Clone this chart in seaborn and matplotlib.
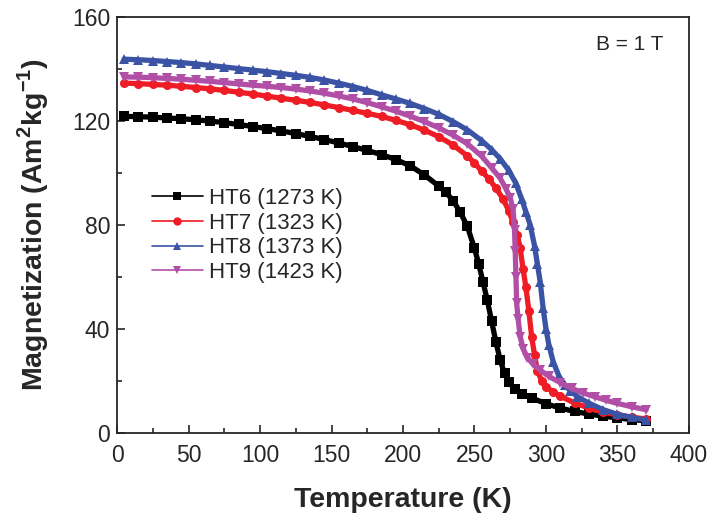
import pandas as pd
import matplotlib
matplotlib.use('Agg')
import matplotlib.pyplot as plt
import seaborn as sns
from matplotlib.ticker import MultipleLocator

# Series: temperature (K) and magnetization (Am2/kg)
t_ht6 = [5, 15, 25, 35, 45, 55, 65, 75, 85, 95, 105, 115, 125, 135, 145, 155, 165, 175, 185, 195,
         205, 215, 225, 230, 235, 240, 245, 250, 253, 256, 259, 262, 265, 268, 271, 274, 278, 283,
         290, 300, 310, 320, 330, 340, 350, 360, 370]
m_ht6 = [121.8, 121.7, 121.5, 121.2, 120.9, 120.5, 120.0, 119.4, 118.7, 117.9, 117.1, 116.2, 115.2,
         114.1, 112.9, 111.6, 110.2, 108.7, 107.1, 105.2, 102.8, 99.3, 95.0, 92.6, 89.4, 85.0, 79.5,
         71.0, 65.0, 58.0, 51.0, 43.0, 35.0, 28.0, 23.0, 19.5, 17.0, 15.2, 13.5, 11.3, 9.6, 8.3, 7.3,
         6.5, 5.8, 5.2, 4.7]

t_ht7 = [5, 15, 25, 35, 45, 55, 65, 75, 85, 95, 105, 115, 125, 135, 145, 155, 165, 175, 185, 195,
         205, 215, 225, 235, 245, 250, 255, 260, 265, 270, 274, 277, 280, 282, 284, 286, 288, 290,
         292, 294, 297, 300, 305, 310, 320, 330, 340, 350, 360, 370]
m_ht7 = [134.6, 134.4, 134.1, 133.8, 133.4, 132.9, 132.4, 131.8, 131.1, 130.4, 129.6, 128.8, 128.0,
         127.2, 126.2, 125.2, 124.1, 123.0, 121.8, 120.3, 118.6, 116.5, 114.0, 110.8, 106.6, 103.9,
         100.8, 97.8, 94.2, 90.0, 85.5, 81.0, 76.0, 71.0, 63.0, 56.0, 47.0, 37.0, 30.0, 24.0, 20.0,
         17.8, 15.8, 14.2, 11.6, 9.6, 8.1, 7.0, 6.1, 5.4]

t_ht8 = [5, 15, 25, 35, 45, 55, 65, 75, 85, 95, 105, 115, 125, 135, 145, 155, 165, 175, 185, 195,
         205, 215, 225, 235, 245, 255, 262, 268, 274, 279, 283, 286, 289, 292, 294, 296, 298, 300,
         302, 305, 309, 313, 317, 322, 330, 340, 350, 360, 370]
m_ht8 = [143.8, 143.6, 143.3, 142.9, 142.5, 142.0, 141.4, 140.8, 140.2, 139.6, 139.0, 138.3, 137.6,
         136.8, 135.8, 134.6, 133.3, 131.8, 130.1, 128.5, 126.8, 124.8, 122.6, 119.8, 116.6, 112.5,
         109.0, 105.5, 101.0, 96.0, 90.0, 85.0, 80.0, 72.0, 65.0, 58.0, 48.0, 40.0, 34.0, 27.5, 22.0,
         18.5, 16.3, 14.0, 11.5, 9.0, 7.2, 6.0, 5.0]

t_ht9 = [5, 15, 25, 35, 45, 55, 65, 75, 85, 95, 105, 115, 125, 135, 145, 155, 165, 175, 185, 195,
         205, 215, 225, 235, 245, 255, 262, 268, 272, 275, 277, 278, 278.5, 279, 279.5, 280.5, 282,
         284, 287, 291, 296, 302, 310, 318, 326, 334, 342, 350, 360, 370]
m_ht9 = [137.0, 136.9, 136.7, 136.4, 136.1, 135.7, 135.3, 134.8, 134.3, 133.8, 133.4, 132.9, 132.3,
         131.6, 130.7, 129.7, 128.5, 127.1, 125.5, 123.8, 121.9, 119.8, 117.4, 114.6, 111.3, 106.5,
         102.0, 98.0, 94.0, 90.5, 86.0, 78.0, 70.0, 60.0, 50.0, 44.0, 37.0, 32.5, 29.0, 26.5, 24.2,
         21.8, 19.4, 17.2, 15.4, 14.0, 12.6, 11.4, 10.1, 9.0]

labels = ['HT6 (1273 K)', 'HT7 (1323 K)', 'HT8 (1373 K)', 'HT9 (1423 K)']
colors = ['#000000', '#ee1c25', '#3a53a4', '#b14fa6']
markers = ['s', 'o', '^', 'v']

series = [(t_ht6, m_ht6), (t_ht7, m_ht7), (t_ht8, m_ht8), (t_ht9, m_ht9)]

sns.set_style('ticks')
plt.rcParams['font.family'] = ['Liberation Sans', 'DejaVu Sans']
plt.rcParams['mathtext.fontset'] = 'custom'
plt.rcParams['mathtext.rm'] = 'Liberation Sans'
plt.rcParams['mathtext.bf'] = 'Liberation Sans:bold'

fig = plt.figure(figsize=(7.11, 5.18), dpi=100)
ax = fig.add_axes([0.1646, 0.164, 0.8044, 0.803])

# the measured points sit so close together that they read as a thick band
for (t, m), lab, c, mk in zip(series, labels, colors, markers):
    df = pd.DataFrame({'T': t, 'M': m})
    sns.lineplot(data=df, x='T', y='M', ax=ax, color=c, marker=mk, markersize=6.5,
                 markeredgewidth=0, linewidth=3.8, label=lab, sort=False, estimator=None,
                 solid_joinstyle='round', solid_capstyle='round')

ax.set_xlim(0, 400)
ax.set_ylim(0, 160)
ax.xaxis.set_major_locator(MultipleLocator(50))
ax.xaxis.set_minor_locator(MultipleLocator(25))
ax.yaxis.set_major_locator(MultipleLocator(40))
ax.yaxis.set_minor_locator(MultipleLocator(20))
ax.tick_params(which='both', direction='in', top=False, right=False, width=1.2)
ax.tick_params(which='major', length=6, labelsize=16.5)
ax.tick_params(axis='x', which='major', pad=8)
ax.tick_params(axis='y', which='major', pad=5)
ax.tick_params(which='minor', length=3.5)
for s in ax.spines.values():
    s.set_linewidth(1.3)
    s.set_visible(True)

ax.set_xlabel('Temperature (K)', fontsize=20.5, fontweight='bold', labelpad=14)
ax.set_ylabel(r'Magnetization (Am$^{\mathbf{2}}$kg$^{\mathbf{-1}}$)', fontsize=20.5,
              fontweight='bold', labelpad=15)

ax.text(0.955, 0.935, 'B = 1 T', transform=ax.transAxes, ha='right', va='center', fontsize=15)

leg = ax.legend(loc='upper left', bbox_to_anchor=(0.045, 0.61), frameon=False, fontsize=16,
                handlelength=2.3, handletextpad=0.3, labelspacing=0.16, borderaxespad=0)
for h in leg.legend_handles:
    h.set_linewidth(1.2)
    h.set_markersize(6)

fig.savefig('out.png', dpi=100)
